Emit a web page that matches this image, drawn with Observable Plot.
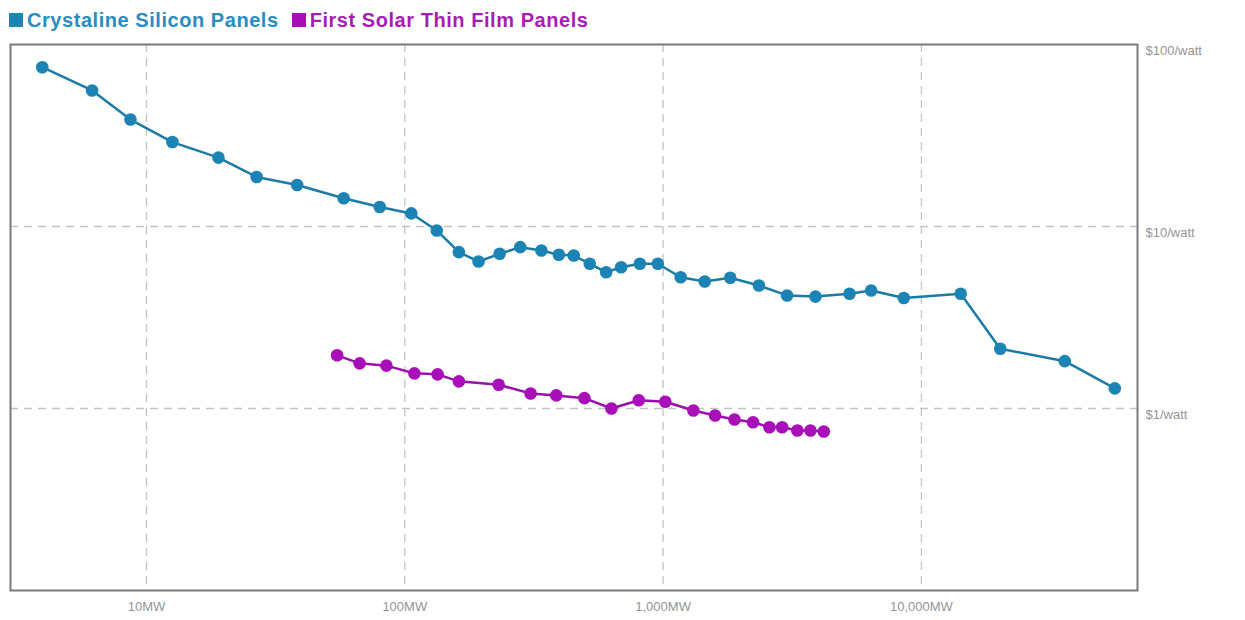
<!DOCTYPE html>
<html>
<head>
<meta charset="utf-8">
<script src="https://cdn.jsdelivr.net/npm/d3@7"></script>
<script src="https://cdn.jsdelivr.net/npm/@observablehq/plot@0.6"></script>
<style>
  html, body { margin: 0; padding: 0; background: #fff; }
  #legend { height: 40px; display: flex; align-items: center; padding-left: 9px; box-sizing: border-box;
    font-family: "Liberation Sans", Arial, sans-serif; font-weight: bold; font-size: 20px; letter-spacing: 0.55px; }
  .item { display: flex; align-items: center; margin-right: 13px; }
  .sw { width: 14px; height: 14px; margin-right: 4px; display: inline-block; }
  #chart svg { display: block; }
</style>
</head>
<body>
<div id="legend"></div>
<div id="chart"></div>
<script>
// Series names and colours
const seriesNames = ["Crystaline Silicon Panels", "First Solar Thin Film Panels"];
const seriesColors = ["#1b84b4", "#a80fb8"];
const lineColors = ["#1a7ca6", "#9a10aa"];
const legendTextColors = ["#2a8cc0", "#a61db6"];

// Crystalline silicon: cumulative installed capacity (MW) and price ($/watt)
const siliconMW = [3.95, 6.16, 8.67, 12.6, 19.0, 26.7, 38.3, 58.0, 80.0, 106, 133, 162, 193, 233, 280, 338, 395, 451, 520, 602, 688, 813, 954, 1170, 1450, 1820, 2350, 3020, 3890, 5270, 6390, 8550, 14200, 20200, 35900, 56100];
const siliconPrice = [75.0, 55.9, 38.7, 29.1, 23.9, 18.7, 16.9, 14.3, 12.8, 11.8, 9.51, 7.23, 6.42, 7.08, 7.70, 7.38, 6.99, 6.93, 6.24, 5.61, 5.97, 6.24, 6.24, 5.26, 4.99, 5.23, 4.74, 4.18, 4.12, 4.27, 4.45, 4.05, 4.27, 2.13, 1.82, 1.29];

// First Solar thin film
const thinFilmMW = [54.7, 66.9, 84.9, 109, 134, 162, 231, 307, 386, 496, 631, 805, 1020, 1310, 1590, 1890, 2230, 2580, 2890, 3310, 3720, 4190];
const thinFilmPrice = [1.96, 1.77, 1.72, 1.56, 1.54, 1.41, 1.35, 1.21, 1.18, 1.14, 1.00, 1.11, 1.09, 0.975, 0.915, 0.870, 0.841, 0.789, 0.789, 0.757, 0.757, 0.747];

// Axes
const xTicks = [10, 100, 1000, 10000];
const xTickLabels = ["10MW", "100MW", "1,000MW", "10,000MW"];
const yTicks = [1, 10, 100];
const yTickLabels = ["$1/watt", "$10/watt", "$100/watt"];
const xDomain = [2.976, 68650];
const yDomain = [0.1, 100];

const rows = [
  ...siliconMW.map((mw, i) => ({series: seriesNames[0], mw, price: siliconPrice[i]})),
  ...thinFilmMW.map((mw, i) => ({series: seriesNames[1], mw, price: thinFilmPrice[i]}))
];

// legend
const legend = document.getElementById("legend");
seriesNames.forEach((name, i) => {
  const it = document.createElement("span");
  it.className = "item";
  it.innerHTML = `<span class="sw" style="background:${seriesColors[i]}"></span><span style="color:${legendTextColors[i]}">${name}</span>`;
  legend.appendChild(it);
});

const chart = Plot.plot({
  width: 1245,
  height: 580,
  marginTop: 4,
  marginBottom: 30,
  marginLeft: 10,
  marginRight: 108,
  style: {fontFamily: "'Liberation Sans', Arial, sans-serif", fontSize: "13px", background: "#fff"},
  x: {type: "log", domain: xDomain, label: null},
  y: {type: "log", domain: yDomain, label: null},
  marks: [
    Plot.gridX(xTicks, {stroke: "#c4c4c4", strokeOpacity: 1, strokeDasharray: "8,6", strokeWidth: 1.3}),
    Plot.gridY([1, 10], {stroke: "#c4c4c4", strokeOpacity: 1, strokeDasharray: "8,6", strokeWidth: 1.3}),
    Plot.axisX(xTicks, {anchor: "bottom", label: null, tickSize: 0, tickPadding: 11, fill: "#959595",
      tickFormat: d => xTickLabels[xTicks.indexOf(d)]}),
    Plot.axisY(yTicks, {anchor: "right", label: null, tickSize: 0, tickPadding: 8, dy: 6, fill: "#959595",
      tickFormat: d => yTickLabels[yTicks.indexOf(d)]}),
    Plot.line(rows, {x: "mw", y: "price", z: "series", stroke: d => lineColors[seriesNames.indexOf(d.series)], strokeWidth: 2.5}),
    Plot.dot(rows, {x: "mw", y: "price", fill: d => seriesColors[seriesNames.indexOf(d.series)], r: 6.3}),
    Plot.frame({stroke: "#7a7a7a", strokeWidth: 2})
  ]
});
document.getElementById("chart").appendChild(chart);
</script>
</body>
</html>
